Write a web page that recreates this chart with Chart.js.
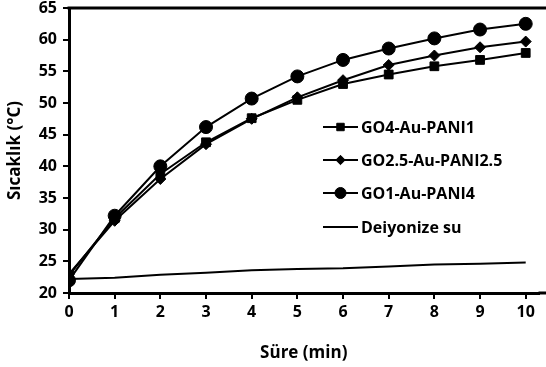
<!DOCTYPE html>
<html><head><meta charset="utf-8">
<script src="https://cdn.jsdelivr.net/npm/chart.js@4/dist/chart.umd.min.js"></script>
<style>html,body{margin:0;padding:0;background:#fff}#wrap{width:546px;height:367px}</style>
</head><body><div id="wrap"><canvas id="c" width="546" height="367"></canvas></div>
<script>
const times = [0,1,2,3,4,5,6,7,8,9,10];
const go4 = [22.8,31.8,38.8,43.8,47.6,50.5,53.0,54.5,55.8,56.8,57.9];
const go25 = [23.0,31.4,38.0,43.5,47.5,50.9,53.6,56.0,57.5,58.8,59.7];
const go1 = [22.0,32.2,40.0,46.2,50.7,54.2,56.8,58.6,60.2,61.6,62.5];
const water = [22.2,22.4,22.9,23.2,23.6,23.8,23.9,24.2,24.5,24.6,24.8];
const labels = ["GO4-Au-PANI1","GO2.5-Au-PANI2.5","GO1-Au-PANI4","Deiyonize su"];
const yTicks = [20,25,30,35,40,45,50,55,60,65];
const xTicks = [0,1,2,3,4,5,6,7,8,9,10];

const FONT = "'Open Sans', sans-serif";
const pts = a => a.map((v,i)=>({x:times[i], y:v}));

const legendPlugin = {
  id:'customLegend',
  afterDraw(chart){
    const ctx = chart.ctx;
    const x0 = 323, x1 = 358, tx = 361;
    const ys = [127,160,193,227];
    chart.data.datasets.forEach((ds,i)=>{
      const y = ys[i];
      ctx.save();
      ctx.strokeStyle = '#000'; ctx.lineWidth = 2;
      ctx.beginPath(); ctx.moveTo(x0,y); ctx.lineTo(x1,y); ctx.stroke();
      if (ds.pointRadius > 0) {
        ctx.fillStyle='#000'; ctx.strokeStyle='#000'; ctx.lineWidth=1;
        Chart.helpers.drawPoint(ctx, {pointStyle: ds.pointStyle, radius: ds.pointRadius*0.85, borderWidth: 1}, (x0+x1)/2, y);
      }
      ctx.fillStyle = '#000';
      ctx.font = "bold 16px " + FONT;
      ctx.textBaseline = 'middle';
      ctx.fillText(ds.label, tx, y+1);
      ctx.restore();
    });
    const a = chart.chartArea;
    ctx.save(); ctx.strokeStyle='#000'; ctx.lineWidth=3;
    ctx.beginPath(); ctx.moveTo(a.left-1.5, a.top); ctx.lineTo(546, a.top); ctx.stroke();
    ctx.beginPath(); ctx.moveTo(a.right, a.bottom); ctx.lineTo(546, a.bottom); ctx.stroke();
    ctx.restore();
  }
};

const common = {borderColor:'#000', backgroundColor:'#000', borderWidth:2, showLine:true, tension:0, pointBorderWidth:1, pointBorderColor:'#000', pointBackgroundColor:'#000'};

new Chart(document.getElementById('c'), {
  type:'scatter',
  data:{datasets:[
    Object.assign({label:labels[0], data:pts(go4), pointStyle:'rect', pointRadius:6.2}, common),
    Object.assign({label:labels[1], data:pts(go25), pointStyle:'rectRot', pointRadius:5.5}, common),
    Object.assign({label:labels[2], data:pts(go1), pointStyle:'circle', pointRadius:6.5}, common),
    Object.assign({label:labels[3], data:pts(water), pointStyle:'circle', pointRadius:0}, common)
  ]},
  options:{
    responsive:false, animation:false,
    layout:{padding:{top:8,right:0,left:0,bottom:0}},
    plugins:{legend:{display:false}, tooltip:{enabled:false}},
    scales:{
      x:{type:'linear', min:0, max:10.28,
        afterBuildTicks(s){ s.ticks = xTicks.map(v=>({value:v})); },
        afterFit(s){ s.height = 74; },
        border:{display:true, color:'#000', width:3},
        grid:{drawOnChartArea:false, drawTicks:true, tickLength:6, color:'#000', lineWidth:2},
        ticks:{color:'#000', font:{family:FONT, size:16, weight:'bold'}, padding:4, maxRotation:0},
        title:{display:true, text:'Süre (min)', color:'#000', font:{family:FONT, size:17, weight:'bold'}, padding:{top:2}}
      },
      y:{type:'linear', min:20, max:65,
        afterBuildTicks(s){ s.ticks = yTicks.map(v=>({value:v})); },
        afterFit(s){ s.width = 69; s.paddingTop = 0; s.paddingBottom = 0; },
        border:{display:true, color:'#000', width:3},
        grid:{drawOnChartArea:false, drawTicks:true, tickLength:6, color:'#000', lineWidth:2},
        ticks:{color:'#000', font:{family:FONT, size:16, weight:'bold'}, padding:6},
        title:{display:true, text:'Sıcaklık (°C)', color:'#000', font:{family:FONT, size:17, weight:'bold'}, padding:{top:5, bottom:0}}
      }
    }
  },
  plugins:[legendPlugin]
});
</script></body></html>
